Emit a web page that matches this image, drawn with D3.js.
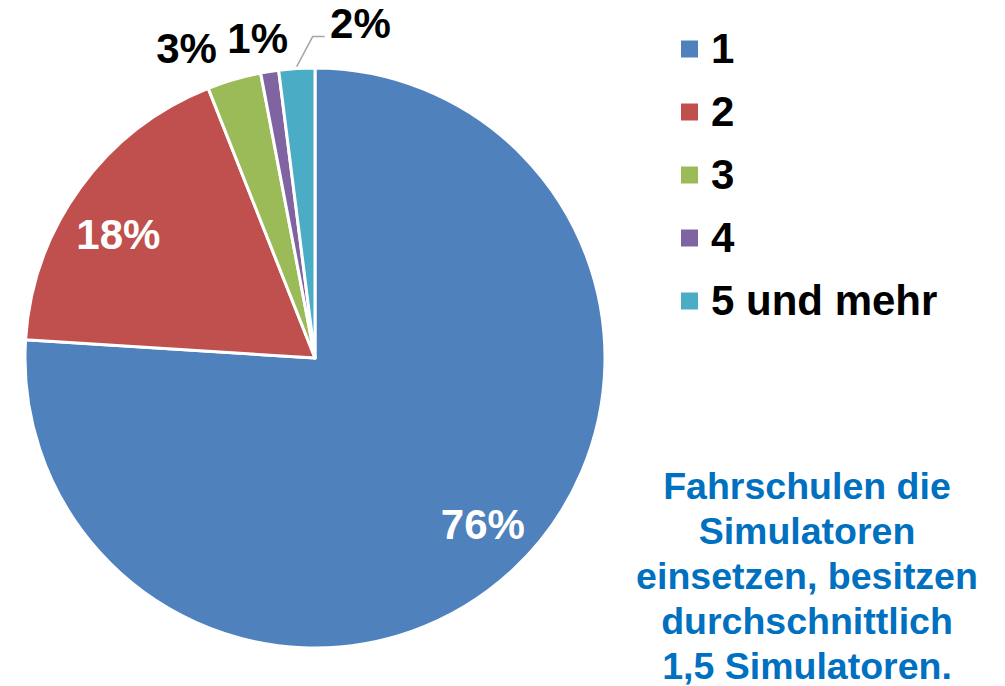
<!DOCTYPE html>
<html>
<head>
<meta charset="utf-8">
<script src="https://cdn.jsdelivr.net/npm/d3@7"></script>
<style>
  body { margin: 0; background: #fff; }
  text { font-family: "Liberation Sans", Arial, sans-serif; font-weight: bold; }
</style>
</head>
<body>
<div id="canvas"></div>
<script>
// Data
var categories = ["1", "2", "3", "4", "5 und mehr"];
var shares = [76, 18, 3, 1, 2];
var colors = ["#4F81BD", "#C0504D", "#9BBB59", "#8064A2", "#4BACC6"];
var note = ["Fahrschulen die", "Simulatoren", "einsetzen, besitzen", "durchschnittlich", "1,5 Simulatoren."];

var width = 1005, height = 686;
var cx = 315, cy = 358, radius = 290;

var svg = d3.select("#canvas").append("svg")
  .attr("width", width)
  .attr("height", height);

var pie = d3.pie().sort(null).value(function (d) { return d; });
var arcs = pie(shares);

var arc = d3.arc().innerRadius(0).outerRadius(radius);

var g = svg.append("g").attr("transform", "translate(" + cx + "," + cy + ")");

g.selectAll("path")
  .data(arcs)
  .enter().append("path")
  .attr("d", arc)
  .attr("fill", function (d, i) { return colors[i]; })
  .attr("stroke", "#fff")
  .attr("stroke-width", 3)
  .attr("stroke-linejoin", "round");

// inside labels for the big slices, outside for small ones
var inArc = d3.arc().innerRadius(232).outerRadius(232);
var outArc = d3.arc().innerRadius(328).outerRadius(328);

// manual nudges so the small outside labels don't collide
var nudge = [[9, -3], [-9, 12], [-37, 5], [-6, 4], [66, -8]];

g.selectAll("text.pct")
  .data(arcs)
  .enter().append("text")
  .attr("class", "pct")
  .attr("text-anchor", "middle")
  .attr("dy", "0.36em")
  .attr("font-size", 42)
  .attr("fill", function (d) { return d.data >= 10 ? "#fff" : "#000"; })
  .attr("transform", function (d, i) {
    var p = d.data >= 10 ? inArc.centroid(d) : outArc.centroid(d);
    return "translate(" + (p[0] + nudge[i][0]) + "," + (p[1] + nudge[i][1]) + ")";
  })
  .text(function (d) { return d.data + "%"; });

// leader line for the last slice
var last = arcs[4];
var a = (last.startAngle + last.endAngle) / 2;
var p0 = [Math.sin(a) * (radius + 2), -Math.cos(a) * (radius + 2)];
g.append("polyline")
  .attr("points", [p0, [p0[0] + 16, p0[1] - 30], [p0[0] + 28, p0[1] - 30]].map(function (p) { return p.join(","); }).join(" "))
  .attr("fill", "none")
  .attr("stroke", "#A6A6A6")
  .attr("stroke-width", 1.5);

// legend
var legend = svg.append("g").attr("transform", "translate(681,49)");
var row = legend.selectAll("g")
  .data(categories)
  .enter().append("g")
  .attr("transform", function (d, i) { return "translate(0," + (i * 63) + ")"; });

row.append("rect")
  .attr("x", 0).attr("y", -8.5)
  .attr("width", 17).attr("height", 17)
  .attr("fill", function (d, i) { return colors[i]; });

row.append("text")
  .attr("x", 30).attr("y", 14)
  .attr("font-size", 42)
  .attr("fill", "#000")
  .text(function (d) { return d; });

// note
svg.append("g").selectAll("text")
  .data(note)
  .enter().append("text")
  .attr("x", 807)
  .attr("y", function (d, i) { return 499 + i * 45; })
  .attr("text-anchor", "middle")
  .attr("font-size", 37.5)
  .attr("fill", "#0070C0")
  .text(function (d) { return d; });
</script>
</body>
</html>
